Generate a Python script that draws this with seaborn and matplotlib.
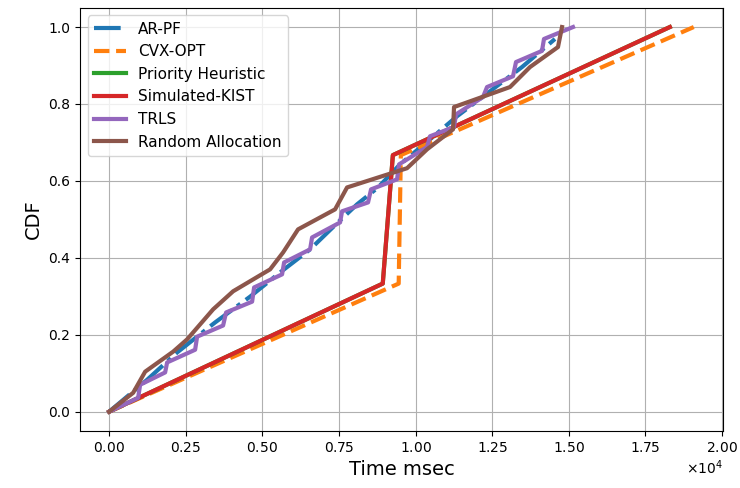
import matplotlib
matplotlib.use("Agg")
import matplotlib.pyplot as plt
import seaborn as sns

# ---- data ----
arpf_x = [0, 1240, 2219, 3458, 4600, 5579, 6558, 7439, 8091, 8777, 9494, 10473, 11354, 12431, 13475, 14551]
arpf_y = [0, 0.083, 0.154, 0.232, 0.299, 0.362, 0.422, 0.490, 0.539, 0.583, 0.643, 0.708, 0.768, 0.833, 0.896, 0.969]

cvx_x = [0, 9450, 9520, 19080]
cvx_y = [0, 0.333, 0.667, 1.0]

prio_x = [0, 8930, 9260, 18300]
prio_y = [0, 0.333, 0.667, 1.0]

kist_x = [0, 8930, 9260, 18300]
kist_y = [0, 0.333, 0.667, 1.0]

trls_x = [0, 946, 1011, 1827, 1892, 2806, 2871, 3719, 3817, 4666, 4731, 5644, 5710,
          6558, 6623, 7537, 7602, 8450, 8548, 9396, 9462, 10375, 10473, 11256, 11321,
          12202, 12333, 13181, 13279, 14127, 14192, 15139]
trls_y = [0, 0.036, 0.070, 0.102, 0.128, 0.161, 0.195, 0.224, 0.258, 0.286, 0.323, 0.357, 0.388,
          0.422, 0.453, 0.492, 0.521, 0.544, 0.578, 0.604, 0.643, 0.688, 0.716, 0.740, 0.773,
          0.818, 0.844, 0.872, 0.909, 0.938, 0.969, 1.0]

rand_x = [0, 783, 1175, 2088, 2545, 3393, 4046, 5253, 5677, 6166, 7374, 7765, 9723,
          10375, 11223, 11256, 13083, 13736, 14649, 14780]
rand_y = [0, 0.049, 0.104, 0.156, 0.188, 0.266, 0.313, 0.370, 0.414, 0.474, 0.526, 0.583, 0.633,
          0.682, 0.734, 0.792, 0.844, 0.896, 0.948, 1.0]

labels = ["AR-PF", "CVX-OPT", "Priority Heuristic", "Simulated-KIST", "TRLS", "Random Allocation"]
series = [(arpf_x, arpf_y), (cvx_x, cvx_y), (prio_x, prio_y), (kist_x, kist_y), (trls_x, trls_y), (rand_x, rand_y)]
styles = ["-.", "--", "-", "-", "-", "-"]
colors = ["#1f77b4", "#ff7f0e", "#2ca02c", "#d62728", "#9467bd", "#8c564b"]

fig = plt.figure(figsize=(7.4, 4.88), dpi=100)
ax = fig.add_axes([0.108, 0.117, 0.869, 0.867])

for (xs, ys), lab, ls, c in zip(series, labels, styles, colors):
    sns.lineplot(x=xs, y=ys, ax=ax, sort=False, estimator=None, color=c,
                 linestyle=ls, linewidth=3, label=lab)

ax.grid(True, color="#b0b0b0", linewidth=0.8)
ax.set_axisbelow(True)
ax.ticklabel_format(axis="x", style="sci", scilimits=(0, 0), useMathText=True)
ax.set_xlabel("Time msec", fontsize=14)
ax.set_ylabel("CDF", fontsize=14)
ax.legend(loc="upper left", fontsize=11, handlelength=2.1)

fig.savefig("out.png", dpi=100)
